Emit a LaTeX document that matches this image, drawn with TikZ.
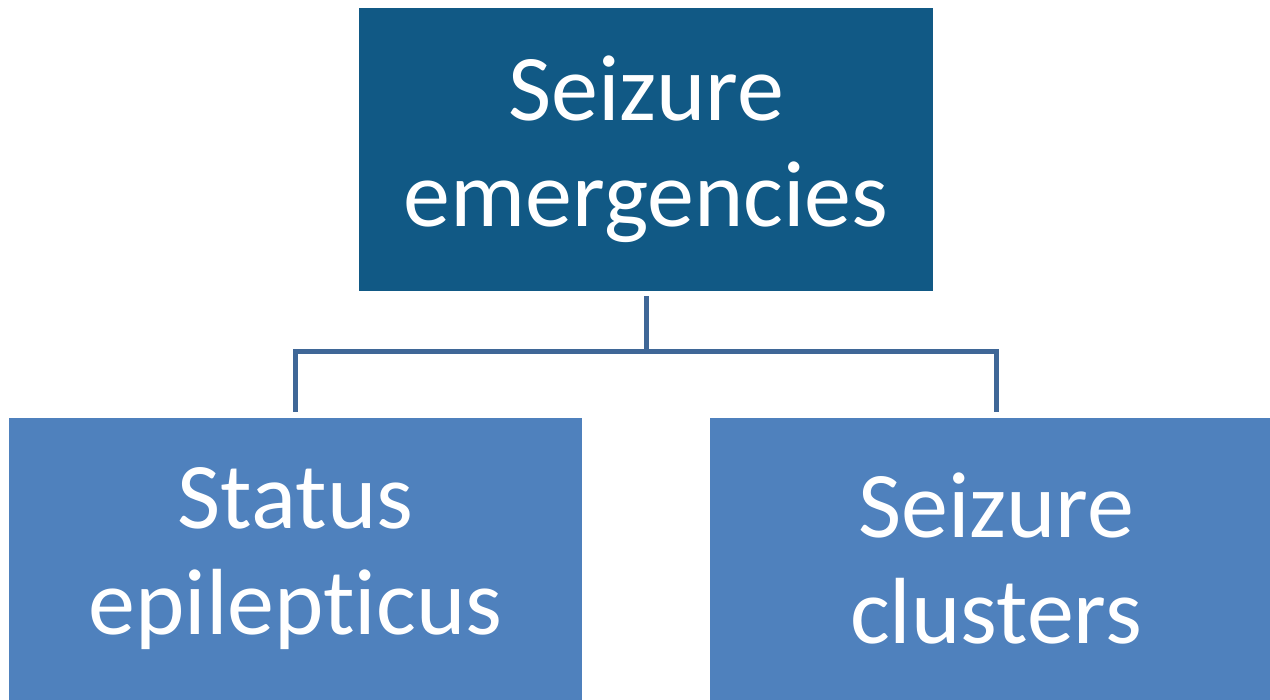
\documentclass[tikz,border=0pt]{standalone}
\usepackage{fontspec}
\setmainfont{Carlito}[Ligatures=NoCommon]
\definecolor{topblue}{HTML}{115985}
\definecolor{boxblue}{HTML}{4F81BD}
\definecolor{linkblue}{HTML}{3F6797}
\tikzset{
  box/.style={rectangle, inner sep=0pt, text=white, align=center,
    font=\fontsize{47pt}{53pt}\selectfont},
  conn/.style={draw=linkblue, line width=2.5pt}
}
\begin{document}
\begin{tikzpicture}[x=0.5pt,y=-0.5pt]
\useasboundingbox (0,0) rectangle (1270,700);
\node[box, fill=topblue, minimum width=287pt, minimum height=141.5pt] (top) at (646,149.5) {Seizure\\emergencies};
\node[box, fill=boxblue, minimum width=286.5pt, minimum height=141pt] (left) at (295.5,559) {Status\\epilepticus};
\node[box, fill=boxblue, minimum width=286pt, minimum height=141pt] (right) at (996,559) {Seizure\\clusters};
\coordinate (bus) at (646,352);
\draw[conn] ([yshift=-2.5pt]top.south) -- (bus);
\draw[conn] (bus) -| ([yshift=3pt]left.north);
\draw[conn] (bus) -| ([yshift=3pt]right.north);
\end{tikzpicture}
\end{document}
